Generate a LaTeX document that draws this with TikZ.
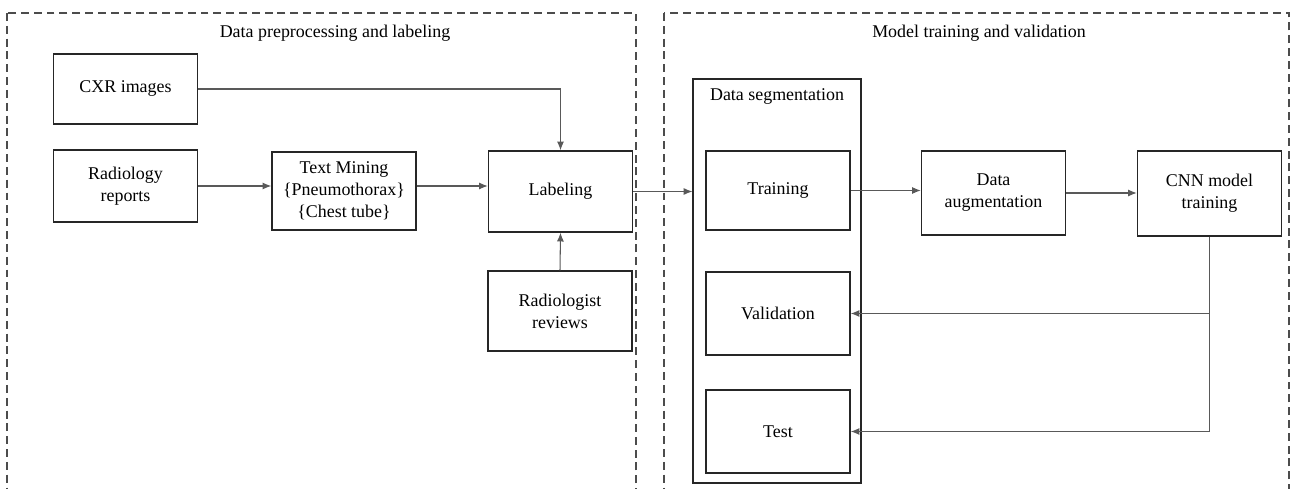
\documentclass[tikz,border=0pt]{standalone}
\usepackage{fontspec}
\setmainfont{Liberation Serif}
\newfontfamily\diagfont{Liberation Serif}
\usetikzlibrary{arrows.meta}
\tikzset{
  box/.style={draw=black!85, line width=0.8pt, align=center, inner sep=1pt, minimum width=2.88cm},
  link/.style={draw=black!65, line width=0.6pt, -{Latex[length=5pt,width=4pt]}},
  region/.style={draw=black!70, line width=0.7pt, dash pattern=on 4.5pt off 2.8pt},
}

\begin{document}
\begin{tikzpicture}[x=0.02cm, y=-0.02cm, font=\diagfont\fontsize{10.2}{12.5}\selectfont]
        \useasboundingbox (0,0) rectangle (1293,489);
        \clip (0,0) rectangle (1293,489);

        % two dashed regions, open at the bottom
        \draw[region] (7,13) rectangle (636,530);
        \draw[region] (664,13) rectangle (1289,530);

        %write region titles
        \node (titleA) at (335,33) {Data preprocessing and labeling};
        \node (titleB) at (979,33) {Model training and validation};

        % boxes of the left region
        \node[box, minimum height=1.40cm] (cxr) at (125.5,89) {CXR images};
        \node[box, minimum height=1.44cm] (reports) at (125.5,186) {Radiology\\reports};
        \node[box, minimum height=1.56cm] (mining) at (344,191) {Text Mining\\\{Pneumothorax\}\\\{Chest tube\}};
        \node[box, minimum height=1.62cm] (labeling) at (560.5,191.5) {Labeling};
        \node[box, minimum height=1.60cm] (review) at (560,311) {Radiologist\\reviews};

        % segmentation box with its 3 parts
        \node[draw=black!85, line width=0.7pt, minimum width=3.36cm, minimum height=8.08cm] (seg) at (777,281) {};
        \node (seglabel) at (777,97) {Data segmentation};
        \node[box, minimum height=1.58cm] (train) at (778,190.5) {Training};
        \node[box, minimum height=1.66cm] (valid) at (778,313.5) {Validation};
        \node[box, minimum height=1.66cm] (test) at (778,431.5) {Test};

        % boxes of the right region
        \node[box, minimum height=1.68cm] (aug) at (993.5,193) {Data\\augmentation};
        \node[box, minimum height=1.70cm] (cnn) at (1209.5,193.5) {CNN model\\training};

        % connections on the left
        \draw[link] (cxr.east) -| (labeling.north);
        \draw[link] (reports.east) -- (reports.east -| mining.west);
        \draw[link] (mining.east |- reports.east) -- (reports.east -| labeling.west);
        \draw[link] (review.north) -- (labeling.south);

        % connections on the right
        \draw[link] (labeling.east) -- (labeling.east -| seg.west);
        \draw[link] (train.east) -- (train.east -| aug.west);
        \draw[link] (aug.east) -- (aug.east -| cnn.west);
        \draw[link] (cnn.south) |- (valid.east);
        \draw[link] (cnn.south) |- (test.east);

\end{tikzpicture}
\end{document}
